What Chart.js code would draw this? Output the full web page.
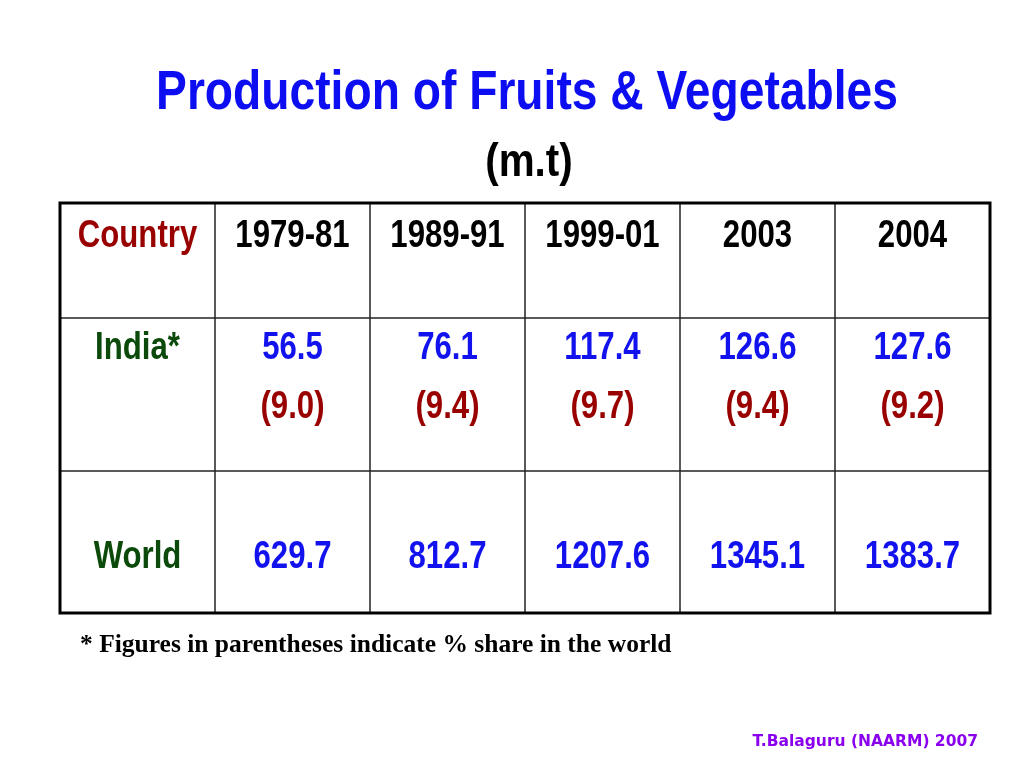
<!DOCTYPE html>
<html>
<head>
<meta charset="utf-8">
<title>Production of Fruits & Vegetables</title>
<script src="https://cdn.jsdelivr.net/npm/chart.js@4.4.1/dist/chart.umd.min.js"></script>
<style>
  html, body { margin: 0; padding: 0; background: #ffffff; }
  #tableChart { display: block; }
</style>
</head>
<body>
<canvas id="tableChart" width="1024" height="768"></canvas>
<script>
// data
const headerLabel = "Country";
const periods = ["1979-81", "1989-91", "1999-01", "2003", "2004"];
const countries = ["India*", "World"];
const indiaProduction = [56.5, 76.1, 117.4, 126.6, 127.6];
const indiaShare = [9.0, 9.4, 9.7, 9.4, 9.2];
const worldProduction = [629.7, 812.7, 1207.6, 1345.1, 1383.7];

document.addEventListener("DOMContentLoaded", function () {

    // =========================
    // Layout / style settings
    // =========================
    const sansBold = "'Liberation Sans', Arial, sans-serif";
    const colors = {
        title: "#0d0df2",
        country: "#990000",
        period: "#000000",
        rowName: "#0b4a0b",
        value: "#1212ee",
        share: "#990000",
        footer: "#8a00ee"
    };
    // row edges in table units (header, India, World)
    const rowEdges = [0, 115, 268, 410];
    // text line centres inside each row, same units
    const headerLine = 34;
    const indiaLines = [146, 205];
    const worldLine = 355;

    // Arial Narrow look from Arial bold, squeezed sideways
    function narrowText(ctx, text, x, y, size, color, squeeze) {
        ctx.save();
        ctx.font = "bold " + size + "px " + sansBold;
        ctx.fillStyle = color;
        ctx.textAlign = "center";
        ctx.textBaseline = "middle";
        ctx.translate(x, y);
        ctx.scale(squeeze || 0.82, 1);
        ctx.fillText(text, 0, 0);
        ctx.restore();
    }

    // =========================
    // Table drawn on chart scales
    // =========================
    const tablePlugin = {
        id: "tableGrid",
        afterDatasetsDraw(chart) {
            const ctx = chart.ctx;
            const xs = chart.scales.x;
            const ys = chart.scales.y;
            const colX = i => xs.getPixelForValue(i);
            const rowY = v => ys.getPixelForValue(v);
            const left = colX(0), right = colX(periods.length + 1);
            const top = rowY(rowEdges[0]), bottom = rowY(rowEdges[rowEdges.length - 1]);

            ctx.save();

            // inner lines
            ctx.strokeStyle = "#222222";
            ctx.lineWidth = 1.5;
            for (let c = 1; c <= periods.length; c++) {
                ctx.beginPath();
                ctx.moveTo(colX(c), top);
                ctx.lineTo(colX(c), bottom);
                ctx.stroke();
            }
            for (let r = 1; r < rowEdges.length - 1; r++) {
                ctx.beginPath();
                ctx.moveTo(left, rowY(rowEdges[r]));
                ctx.lineTo(right, rowY(rowEdges[r]));
                ctx.stroke();
            }

            // outer border
            ctx.strokeStyle = "#000000";
            ctx.lineWidth = 3;
            ctx.strokeRect(left, top, right - left, bottom - top);
            ctx.restore();

            // cell text
            const cellX = c => xs.getPixelForValue(c + 0.5);
            const size = 38;

            narrowText(ctx, headerLabel, cellX(0), rowY(headerLine), size, colors.country);
            periods.forEach((p, i) => narrowText(ctx, p, cellX(i + 1), rowY(headerLine), size, colors.period));

            narrowText(ctx, countries[0], cellX(0), rowY(indiaLines[0]), size, colors.rowName);
            narrowText(ctx, countries[1], cellX(0), rowY(worldLine), size, colors.rowName);

            indiaProduction.forEach((v, i) => {
                narrowText(ctx, v.toFixed(1), cellX(i + 1), rowY(indiaLines[0]), size, colors.value);
                narrowText(ctx, "(" + indiaShare[i].toFixed(1) + ")", cellX(i + 1), rowY(indiaLines[1]), size, colors.share);
            });

            worldProduction.forEach((v, i) => {
                narrowText(ctx, v.toFixed(1), cellX(i + 1), rowY(worldLine), size, colors.value);
            });
        },
        afterDraw(chart) {
            const ctx = chart.ctx;

            // title
            narrowText(ctx, "Production of Fruits & Vegetables", 527, 94, 55, colors.title, 0.84);
            narrowText(ctx, "(m.t)", 529, 163, 47, "#000000", 0.86);

            ctx.save();
            ctx.textBaseline = "middle";

            // footnote
            ctx.textAlign = "left";
            ctx.fillStyle = "#000000";
            ctx.font = "bold 25.5px 'Liberation Serif', 'Times New Roman', serif";
            ctx.fillText("* Figures in parentheses indicate % share in the world", 80, 645);

            // source
            ctx.textAlign = "right";
            ctx.fillStyle = colors.footer;
            ctx.font = "bold 15.5px 'DejaVu Sans', Verdana, sans-serif";
            ctx.fillText("T.Balaguru (NAARM) 2007", 978, 742);

            ctx.restore();
        }
    };

    new Chart(document.getElementById("tableChart"), {
        type: "scatter",
        data: { datasets: [] },
        options: {
            responsive: false,
            animation: false,
            events: [],
            layout: {
                padding: { left: 60, right: 34, top: 203, bottom: 155 }
            },
            plugins: {
                legend: { display: false },
                tooltip: { enabled: false },
                title: { display: false }
            },
            scales: {
                x: { type: "linear", min: 0, max: periods.length + 1, display: false },
                y: { type: "linear", min: rowEdges[0], max: rowEdges[rowEdges.length - 1], reverse: true, display: false }
            }
        },
        plugins: [tablePlugin]
    });
});
</script>
</body>
</html>
